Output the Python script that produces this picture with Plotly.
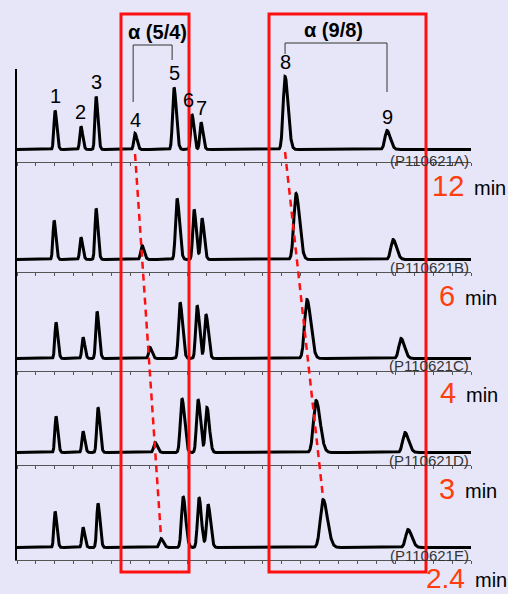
import numpy as np
import plotly.graph_objects as go

# ---------------- data ----------------
samples = ["(P110621A)", "(P110621B)", "(P110621C)", "(P110621D)", "(P110621E)"]
gradient_times = ["12", "6", "4", "3", "2.4"]
peak_names = ["1", "2", "3", "4", "5", "6", "7", "8", "9"]

# retention positions (axis units, 0..24)
rt_A = [2.01, 3.38, 4.18, 6.24, 8.30, 9.25, 9.73, 14.17, 19.56]
rt_B = [1.96, 3.38, 4.18, 6.61, 8.46, 9.36, 9.78, 14.75, 19.88]
rt_C = [2.06, 3.49, 4.23, 7.03, 8.62, 9.52, 9.99, 15.33, 20.30]
rt_D = [2.06, 3.49, 4.28, 7.30, 8.72, 9.57, 10.04, 15.81, 20.51]
rt_E = [2.01, 3.49, 4.28, 7.61, 8.78, 9.62, 10.10, 16.18, 20.67]

# peak heights (detector response, arbitrary units)
h_A = [39, 23, 53, 16, 62, 35, 27, 73, 19]
h_B = [39, 22, 51, 14, 61, 50, 41, 66, 20]
h_C = [36, 21, 47, 11, 56, 53, 44, 59, 20]
h_D = [36, 21, 45, 10, 54, 53, 45, 52, 20]
h_E = [36, 20, 44, 9, 51, 50, 43, 48, 18]

# peak widths (sigma of the leading edge, axis units)
w_A = [0.06, 0.06, 0.06, 0.065, 0.075, 0.065, 0.065, 0.10, 0.11]
w_B = [0.06, 0.06, 0.06, 0.07, 0.08, 0.07, 0.07, 0.115, 0.115]
w_C = [0.06, 0.06, 0.065, 0.07, 0.08, 0.075, 0.075, 0.125, 0.115]
w_D = [0.06, 0.06, 0.065, 0.075, 0.085, 0.08, 0.08, 0.135, 0.12]
w_E = [0.06, 0.06, 0.065, 0.08, 0.085, 0.08, 0.08, 0.145, 0.125]

rts = [rt_A, rt_B, rt_C, rt_D, rt_E]
hs = [h_A, h_B, h_C, h_D, h_E]
ws = [w_A, w_B, w_C, w_D, w_E]

# ---------------- layout geometry ----------------
W, H = 508, 594
BG = "#e6e6f8"
RED = "#ff1010"
ORANGE = "#ff3d0d"
FONT = "Arial, Liberation Sans, sans-serif"
TAIL = 1.6  # trailing-edge broadening of the peaks

panel_top = [69, 162, 272, 371, 465]
panel_bot = [162, 272, 371, 465, 560]
base_off = 12.5
x_left, x_right = 17, 471


def py(p):
    return 1 - p / H


def px(p):
    return p / W


t = np.linspace(0, 24, 4801)

fig = go.Figure()
layout = dict(
    width=W, height=H, margin=dict(l=0, r=0, t=0, b=0),
    paper_bgcolor=BG, plot_bgcolor=BG, showlegend=False,
    font=dict(family=FONT, color="black"),
)

for i in range(5):
    sig = ""
    if i > 0:
        sig = str(i + 1)
    y = np.zeros_like(t)
    for r, hh, s in zip(rts[i], hs[i], ws[i]):
        sd = np.where(t < r, s, s * TAIL)
        y += hh * np.exp(-0.5 * ((t - r) / sd) ** 2)
    fig.add_trace(go.Scatter(x=t, y=y, mode="lines",
                             line=dict(color="black", width=3),
                             xaxis="x" + sig, yaxis="y" + sig, hoverinfo="skip"))
    hpx = panel_bot[i] - panel_top[i]
    layout["xaxis" + sig] = dict(
        domain=[px(x_left), px(x_right)], range=[0, 24], anchor="y" + sig,
        showline=True, linecolor="#555", linewidth=1, ticks="outside", ticklen=3,
        tickcolor="#555", tickwidth=1, dtick=1, tick0=0, showticklabels=False,
        showgrid=False, zeroline=False, fixedrange=True,
    )
    layout["yaxis" + sig] = dict(
        domain=[py(panel_bot[i]), py(panel_top[i])], range=[-base_off, hpx - base_off],
        anchor="x" + sig, showline=True, linecolor="black", linewidth=2,
        ticks="", showticklabels=False, showgrid=False, zeroline=False, fixedrange=True,
    )

fig.update_layout(**layout)

ann = []
# peak labels on the top chromatogram
for k, name in enumerate(peak_names):
    xs = -3 if name == "6" else 0
    ann.append(dict(x=rt_A[k], y=h_A[k], xref="x", yref="y", text=name, showarrow=False,
                    xanchor="center", yanchor="bottom", xshift=xs, yshift=1,
                    font=dict(size=20, color="black")))

# sample codes
lab_y = [160, 267, 365, 460, 555]
for i, s in enumerate(samples):
    ann.append(dict(x=px(471), y=py(lab_y[i]), xref="paper", yref="paper", text=s,
                    showarrow=False, xanchor="right", yanchor="middle",
                    font=dict(size=15, color="#333")))

# gradient times
time_y = [186, 296, 393, 489, 578]
num_right = [466, 457, 458, 457, 467]
num_size = [29, 29, 29, 29, 28]
for i, g in enumerate(gradient_times):
    ann.append(dict(x=px(num_right[i]), y=py(time_y[i]), xref="paper", yref="paper", text=g,
                    showarrow=False, xanchor="right", yanchor="middle",
                    font=dict(size=num_size[i], color=ORANGE)))
    ann.append(dict(x=px(num_right[i] + 6), y=py(time_y[i] + 2), xref="paper", yref="paper",
                    text="min", showarrow=False, xanchor="left", yanchor="middle",
                    font=dict(size=20, color="black")))

# selectivity labels
ann.append(dict(x=px(157), y=py(32), xref="paper", yref="paper", text="<b>α (5/4)</b>",
                showarrow=False, xanchor="center", yanchor="middle",
                font=dict(size=20, color="black")))
ann.append(dict(x=px(333), y=py(30), xref="paper", yref="paper", text="<b>α (9/8)</b>",
                showarrow=False, xanchor="center", yanchor="middle",
                font=dict(size=20, color="black")))

shapes = []
# red boxes
for x0, x1 in [(121, 189), (269, 426)]:
    shapes.append(dict(type="rect", xref="paper", yref="paper", x0=px(x0), x1=px(x1),
                       y0=py(572), y1=py(14), line=dict(color=RED, width=3),
                       fillcolor="rgba(0,0,0,0)", layer="above"))
# dashed peak-tracking lines
shapes.append(dict(type="line", xref="x", yref="paper", x0=rt_A[3], x1=rt_E[3],
                   y0=py(154), y1=py(536), line=dict(color=RED, width=2.5, dash="7px,5px"),
                   layer="above"))
shapes.append(dict(type="line", xref="x", yref="paper", x0=rt_A[7], x1=rt_E[7],
                   y0=py(152), y1=py(498), line=dict(color=RED, width=2.5, dash="7px,5px"),
                   layer="above"))
# brackets
shapes.append(dict(type="path", xref="x", yref="paper",
                   path=f"M {rt_A[3]-0.1},{py(102)} L {rt_A[3]-0.1},{py(45)} L {rt_A[4]-0.1},{py(45)} L {rt_A[4]-0.1},{py(60)}",
                   line=dict(color="#333", width=1)))
shapes.append(dict(type="path", xref="x", yref="paper",
                   path=f"M {rt_A[7]},{py(54)} L {rt_A[7]},{py(43)} L {rt_A[8]},{py(43)} L {rt_A[8]},{py(92)}",
                   line=dict(color="#333", width=1)))

fig.update_layout(annotations=ann, shapes=shapes)
fig.write_html("out.html")
